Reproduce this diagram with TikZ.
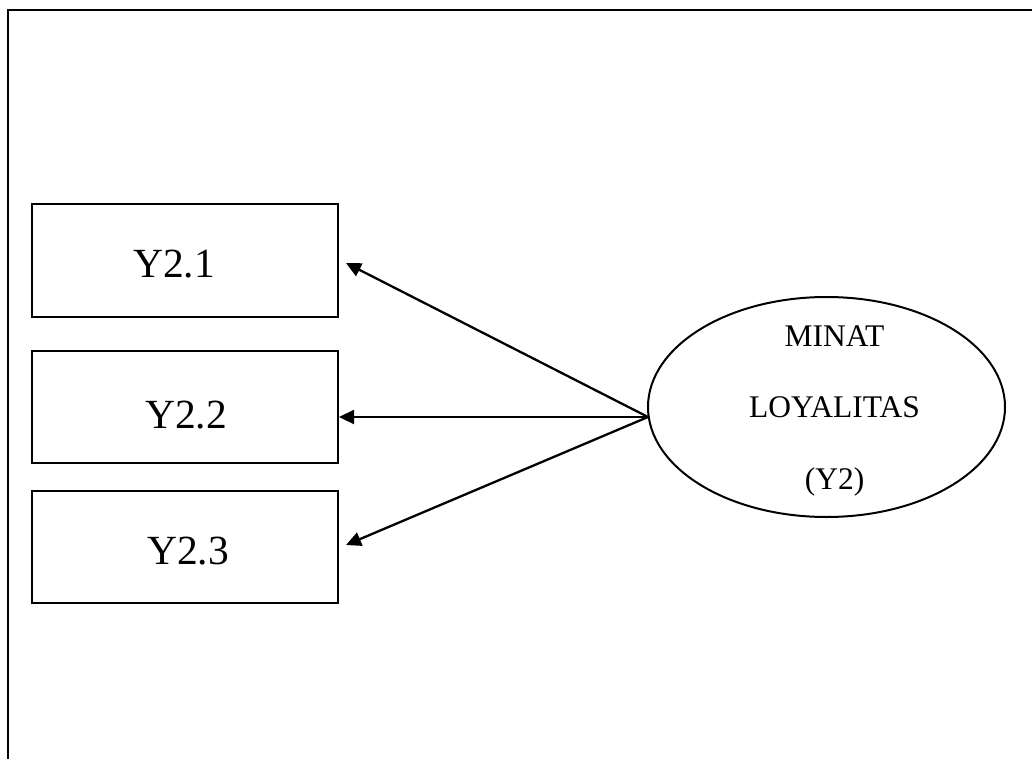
\documentclass[tikz,border=0pt]{standalone}
\usepackage{fontspec}
\setmainfont{Liberation Serif}
\usetikzlibrary{arrows.meta,shapes.geometric}
\begin{document}
\begin{tikzpicture}[x=1pt,y=-1pt,
  every node/.style={inner sep=0pt,outer sep=0pt},
  itembox/.style={draw,line width=2pt,minimum width=306pt,minimum height=112pt},
  itemtext/.style={anchor=base,font=\fontsize{41.5}{48}\selectfont},
  latent/.style={draw,ellipse,line width=2pt,minimum width=357pt,minimum height=220pt},
  latenttext/.style={anchor=base,font=\fontsize{31.5}{38}\selectfont},
  loading/.style={line width=2.3pt,-{Triangle[length=15pt,width=14pt]}}]
  \useasboundingbox (0,0) rectangle (1032,759);
  % open frame: left and top edges only
  \draw[line width=2pt] (8,759) -- (8,10) -- (1032,10);
  % indicator boxes
  \node[itembox] (b1) at (185,260.5) {};
  \node[itembox] (b2) at (185,407) {};
  \node[itembox] (b3) at (185,547) {};
  \node[itemtext] (b1t) at (174,277) {Y2.1};
  \node[itemtext] (b2t) at (186,428) {Y2.2};
  \node[itemtext] (b3t) at (188,564) {Y2.3};
  % latent construct
  \node[latent] (lat) at (826.5,407) {};
  \node[latenttext] (l1) at (834.5,346) {MINAT};
  \node[latenttext] (l2) at (834.5,417) {LOYALITAS};
  \node[latenttext] (l3) at (834.5,489) {(Y2)};
  % loading arrows
  \coordinate (src) at (648,417);
  \coordinate (t1) at (346,263);
  \coordinate (t2) at (339,417);
  \coordinate (t3) at (346,545);
  \draw[loading] (src) -- (t1);
  \draw[loading] (src) -- (t2);
  \draw[loading] (src) -- (t3);
\end{tikzpicture}
\end{document}
